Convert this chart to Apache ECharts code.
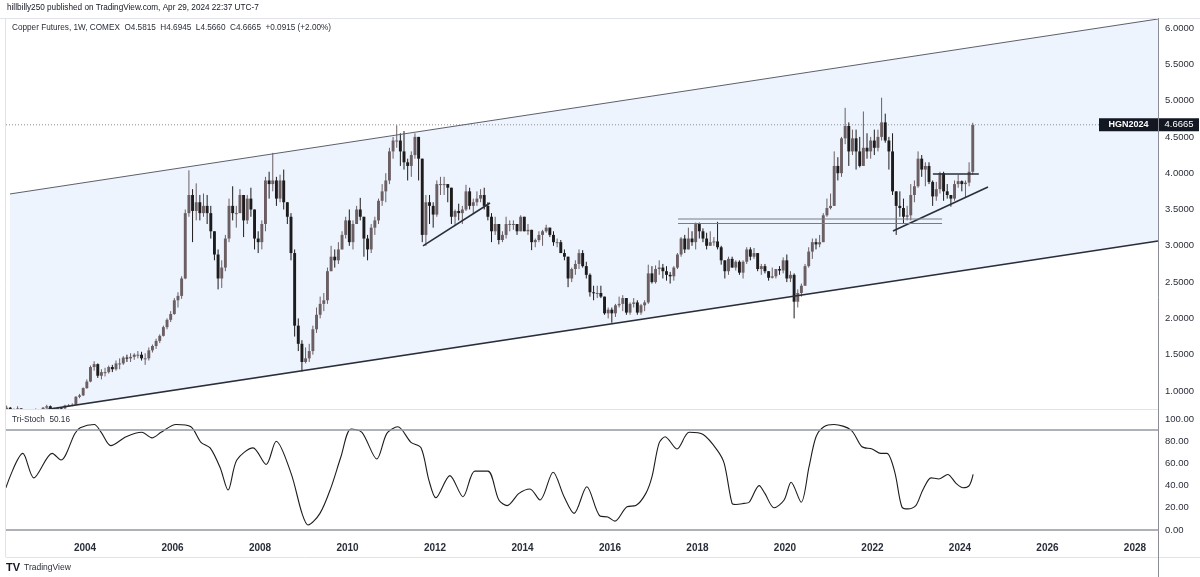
<!DOCTYPE html>
<html><head><meta charset="utf-8">
<script src="https://cdn.jsdelivr.net/npm/echarts@6/dist/echarts.min.js"></script>
<style>html,body{margin:0;padding:0;background:#fff;overflow:hidden}#c{width:1200px;height:577px}</style>
</head><body><div id="c"></div><script>
// ---------- DATA ----------
const startYear = 2002, startMonth = 2; // monthly candles Feb 2002 .. Apr 2024
const open = [
0.72,0.73,0.77,0.73,0.74,0.76,0.69,0.67,0.67,0.72,0.73,
0.70,0.77,0.79,0.75,0.74,0.77,0.76,0.80,0.80,0.81,0.92,0.94,
1.04,1.13,1.33,1.37,1.21,1.26,1.26,1.33,1.30,1.38,1.38,1.46,
1.45,1.47,1.50,1.50,1.45,1.45,1.56,1.62,1.69,1.76,1.88,1.98,
2.06,2.25,2.31,2.55,3.45,3.70,3.48,3.60,3.45,3.55,3.45,3.20,
2.88,2.55,2.70,3.10,3.55,3.45,3.45,3.70,3.35,3.65,3.50,3.10,
3.05,3.30,3.90,3.85,3.90,3.65,3.90,3.60,3.40,2.90,1.90,1.65,
1.40,1.45,1.55,1.85,2.05,2.20,2.25,2.65,2.85,2.80,2.95,3.15,
3.35,3.05,3.30,3.50,3.40,3.10,2.95,3.25,3.35,3.62,3.75,3.90,
4.30,4.45,4.45,4.30,4.15,4.10,4.25,4.50,4.20,3.15,3.60,3.55,
3.43,3.85,3.85,3.85,3.80,3.40,3.48,3.45,3.50,3.75,3.55,3.60,
3.65,3.70,3.55,3.40,3.20,3.30,3.08,3.15,3.30,3.30,3.30,3.20,
3.40,3.20,3.22,3.05,3.08,3.15,3.20,3.25,3.15,3.05,3.05,2.90,
2.85,2.55,2.68,2.75,2.90,2.72,2.60,2.36,2.35,2.35,2.30,2.07,
2.12,2.07,2.18,2.20,2.28,2.08,2.20,2.22,2.08,2.18,2.22,2.62,
2.50,2.68,2.70,2.65,2.60,2.58,2.70,2.88,3.10,2.95,3.10,3.05,
3.30,3.20,3.10,3.00,3.05,3.06,2.98,2.80,2.65,2.82,2.70,2.78,
2.63,2.78,2.95,2.85,2.90,2.68,2.72,2.65,2.56,2.58,2.68,2.66,
2.80,2.55,2.60,2.23,2.35,2.45,2.72,2.92,3.05,3.02,3.05,3.42,
3.52,3.55,4.10,4.00,4.48,4.65,4.30,4.48,4.30,4.10,4.35,4.30,
4.45,4.35,4.50,4.70,4.45,4.30,3.75,3.55,3.52,3.40,3.42,3.70,
3.82,4.20,4.05,4.10,3.88,3.68,3.78,4.00,3.75,3.70,3.65,3.85,
3.89,3.85,3.87,4.02];
const high = [
0.74,0.80,0.78,0.76,0.79,0.76,0.70,0.70,0.73,0.76,0.74,
0.78,0.81,0.80,0.77,0.78,0.78,0.81,0.82,0.83,0.93,0.96,1.05,
1.16,1.35,1.41,1.38,1.30,1.32,1.35,1.36,1.42,1.45,1.48,1.50,
1.52,1.52,1.55,1.54,1.52,1.60,1.64,1.72,1.78,1.90,2.00,2.10,
2.28,2.36,2.58,3.50,4.04,3.78,3.86,3.70,3.72,3.70,3.55,3.20,
2.95,2.80,3.15,3.65,3.82,3.55,3.78,3.70,3.70,3.80,3.50,3.20,
3.35,3.95,4.02,4.28,3.95,3.98,4.05,3.60,3.45,2.95,2.00,1.70,
1.60,1.65,1.90,2.15,2.30,2.35,2.70,3.00,2.95,3.05,3.20,3.40,
3.50,3.35,3.55,3.66,3.40,3.15,3.30,3.40,3.65,3.85,4.00,4.35,
4.50,4.66,4.55,4.58,4.20,4.30,4.55,4.50,4.20,3.70,3.70,3.60,
3.90,3.95,3.95,3.85,3.80,3.50,3.58,3.55,3.84,3.80,3.65,3.75,
3.78,3.80,3.60,3.45,3.40,3.30,3.20,3.40,3.35,3.35,3.30,3.42,
3.40,3.30,3.22,3.10,3.20,3.22,3.29,3.25,3.20,3.10,3.08,2.95,
2.85,2.70,2.80,2.95,2.94,2.78,2.62,2.45,2.45,2.45,2.30,2.15,
2.15,2.20,2.30,2.32,2.28,2.22,2.28,2.25,2.20,2.25,2.74,2.72,
2.73,2.80,2.75,2.72,2.64,2.72,2.90,3.12,3.15,3.25,3.20,3.32,
3.32,3.24,3.18,3.20,3.12,3.33,3.00,2.80,2.85,2.85,2.80,2.80,
2.80,2.98,2.98,2.97,2.90,2.75,2.75,2.65,2.70,2.68,2.72,2.84,
2.88,2.65,2.62,2.40,2.48,2.75,2.98,3.10,3.10,3.15,3.45,3.65,
3.72,4.30,4.22,4.50,4.90,4.70,4.60,4.60,4.50,4.85,4.55,4.50,
4.60,4.60,5.04,4.82,4.50,4.55,3.75,3.75,3.65,3.55,3.85,3.90,
4.30,4.25,4.15,4.15,3.90,3.88,4.02,4.02,3.85,3.70,3.90,3.98,
3.90,3.90,4.15,4.6945];
const low = [
0.70,0.72,0.72,0.71,0.73,0.68,0.65,0.66,0.66,0.71,0.69,
0.70,0.76,0.74,0.72,0.73,0.74,0.75,0.78,0.79,0.81,0.90,0.93,
1.03,1.12,1.28,1.18,1.16,1.20,1.24,1.26,1.28,1.30,1.36,1.40,
1.40,1.43,1.45,1.42,1.36,1.42,1.53,1.58,1.66,1.75,1.85,1.95,
2.05,2.15,2.27,2.54,3.40,3.05,3.35,3.35,3.40,3.30,3.10,2.80,
2.40,2.42,2.65,3.05,3.35,3.25,3.45,3.12,3.30,3.40,2.95,2.90,
2.95,3.20,3.65,3.75,3.55,3.60,3.50,3.30,2.80,1.75,1.55,1.27,
1.38,1.40,1.50,1.80,2.00,2.10,2.20,2.65,2.70,2.75,2.95,3.10,
3.00,2.95,3.30,3.35,2.85,2.80,2.90,3.15,3.30,3.55,3.60,3.85,
4.20,4.35,4.10,4.05,3.90,3.95,4.20,3.90,3.05,3.00,3.30,3.25,
3.40,3.70,3.70,3.60,3.30,3.28,3.35,3.30,3.48,3.50,3.45,3.55,
3.60,3.50,3.35,3.05,3.15,3.02,3.05,3.10,3.20,3.22,3.15,3.20,
3.20,3.15,2.94,2.98,3.05,3.00,3.18,3.12,3.00,2.98,2.90,2.80,
2.43,2.50,2.60,2.68,2.70,2.55,2.30,2.25,2.28,2.28,2.05,2.00,
1.94,2.02,2.15,2.10,2.05,2.05,2.15,2.05,2.05,2.10,2.20,2.48,
2.48,2.60,2.55,2.52,2.48,2.52,2.68,2.85,2.90,2.95,3.00,2.95,
3.10,3.05,2.95,3.00,3.00,2.95,2.74,2.55,2.60,2.70,2.66,2.60,
2.55,2.75,2.80,2.82,2.65,2.60,2.62,2.52,2.55,2.55,2.60,2.62,
2.50,2.50,2.00,2.15,2.30,2.45,2.70,2.82,2.95,2.98,3.05,3.40,
3.50,3.55,3.90,3.95,4.40,4.10,4.25,4.05,4.08,4.10,4.20,4.20,
4.25,4.30,4.45,4.42,4.05,3.70,3.15,3.40,3.30,3.35,3.35,3.60,
3.80,3.95,3.82,3.85,3.55,3.62,3.72,3.62,3.65,3.54,3.62,3.80,
3.75,3.67,3.82,3.98];
const close = [
0.73,0.77,0.73,0.74,0.76,0.69,0.67,0.67,0.72,0.73,0.70,
0.77,0.79,0.75,0.74,0.77,0.76,0.80,0.80,0.81,0.92,0.94,1.04,
1.13,1.33,1.37,1.21,1.26,1.26,1.33,1.30,1.38,1.38,1.46,1.45,
1.47,1.50,1.50,1.45,1.45,1.56,1.62,1.69,1.76,1.88,1.98,2.06,
2.25,2.31,2.55,3.45,3.70,3.48,3.60,3.45,3.55,3.45,3.20,2.88,
2.55,2.70,3.10,3.55,3.45,3.45,3.70,3.35,3.65,3.50,3.10,3.05,
3.30,3.90,3.85,3.90,3.65,3.90,3.60,3.40,2.90,1.90,1.65,1.40,
1.45,1.55,1.85,2.05,2.20,2.25,2.65,2.85,2.80,2.95,3.15,3.35,
3.05,3.30,3.50,3.40,3.10,2.95,3.25,3.35,3.62,3.75,3.90,4.30,
4.45,4.45,4.30,4.15,4.10,4.25,4.50,4.20,3.15,3.60,3.55,3.43,
3.85,3.85,3.85,3.80,3.40,3.48,3.45,3.50,3.75,3.55,3.60,3.65,
3.70,3.55,3.40,3.20,3.30,3.08,3.15,3.30,3.30,3.30,3.20,3.40,
3.20,3.22,3.05,3.08,3.15,3.20,3.25,3.15,3.05,3.05,2.90,2.85,
2.55,2.68,2.75,2.90,2.72,2.60,2.36,2.35,2.35,2.30,2.07,2.12,
2.07,2.18,2.20,2.28,2.08,2.20,2.22,2.08,2.18,2.22,2.62,2.50,
2.68,2.70,2.65,2.60,2.58,2.70,2.88,3.10,2.95,3.10,3.05,3.30,
3.20,3.10,3.00,3.05,3.06,2.98,2.80,2.65,2.82,2.70,2.78,2.63,
2.78,2.95,2.85,2.90,2.68,2.72,2.65,2.56,2.58,2.68,2.66,2.80,
2.55,2.60,2.23,2.35,2.45,2.72,2.92,3.05,3.02,3.05,3.42,3.52,
3.55,4.10,4.00,4.48,4.65,4.30,4.48,4.30,4.10,4.35,4.30,4.45,
4.35,4.50,4.70,4.45,4.30,3.75,3.55,3.52,3.40,3.42,3.70,3.82,
4.20,4.05,4.10,3.88,3.68,3.78,4.00,3.75,3.70,3.65,3.85,3.89,
3.85,3.87,4.02,4.6665];
const lastPrice = 4.6665;

const stochYears = [2002.19,2002.58,2002.83,2003.25,2003.45,2003.77,2003.89,2004.21,2004.37,2004.59,2004.94,2005.30,2005.53,2005.74,2006.08,2006.42,2006.65,2006.86,2007.09,2007.27,2007.47,2007.84,2008.14,2008.37,2008.71,2008.96,2009.10,2009.37,2009.62,2009.85,2010.08,2010.33,2010.67,2010.90,2011.15,2011.45,2011.68,2011.86,2012.02,2012.34,2012.64,2012.91,2013.21,2013.46,2013.65,2013.92,2014.17,2014.40,2014.70,2014.95,2015.18,2015.47,2015.77,2015.95,2016.11,2016.39,2016.59,2016.82,2016.96,2017.12,2017.26,2017.53,2017.81,2018.13,2018.45,2018.61,2018.79,2018.88,2019.06,2019.18,2019.41,2019.54,2019.75,2019.98,2020.14,2020.37,2020.55,2020.71,2020.89,2021.12,2021.51,2021.76,2021.99,2022.19,2022.33,2022.51,2022.67,2022.81,2022.99,2023.15,2023.34,2023.52,2023.72,2023.91,2024.07,2024.21,2024.30];
const stochValues = [38,69,47,69,63,87,92,95,88,76,84,88,83,88,95,93,79,74,56,36,63,74,59,80,51,15,4.5,15,38,66,91,88,64,87,93,79,74,45,29,49,30,53,53,27,22,33,37,27,52,30,15,39,12.6,11.7,8,21,22,33,48,78,84,73,88,86,72,60,24,23,24,25,40,33,20,27,43,25,57,84,93,95,90,75,73,69,69,52,21,19,22,36,47,46,50,42,38,40,50.16];
const stochLevel = 90;

const channelYears = [2002.286, 2028.526];
const channelUpper = [3.714, 6.124];
const channelLower = [0.669, 3.066];
const trend2011Years = [2011.725, 2013.257], trend2011Values = [3.00, 3.59];
const trend2022Years = [2022.468, 2024.64],  trend2022Values = [3.204, 3.81];
const level2023Years = [2023.38, 2024.43],   level2023Values = [3.989, 3.989];
const levelAYears = [2017.555, 2023.59], levelAValues = [3.369, 3.369];
const levelBYears = [2017.555, 2023.59], levelBValues = [3.307, 3.307];

const priceTicks = [1,1.5,2,2.5,3,3.5,4,4.5,5,5.5,6];
const stochTicks = [0,20,40,60,80,100];
const yearTicks = [2004,2006,2008,2010,2012,2014,2016,2018,2020,2022,2024,2026,2028];
const xMin = 2002.194, xMax = 2028.526;

// ---------- CHART ----------
const FONT = 'Liberation Sans';
const chart = echarts.init(document.getElementById('c'), null, {renderer:'canvas'});
const candles = open.map((o,i)=>{
  const m = startMonth - 1 + i;
  return [startYear + (m + 0.5)/12, o, close[i], low[i], high[i]];
});
const pair = (xs, ys) => xs.map((x,i)=>[x, ys[i]]);
function lineSeries(name, xs, ys, color, width){
  return {name, type:'line', xAxisIndex:0, yAxisIndex:0, data: pair(xs, ys), symbol:'none',
    silent:true, animation:false, z:4, lineStyle:{color, width}};
}
const option = {
  animation:false,
  backgroundColor:'#ffffff',
  grid:[
    {left:6, right:42, top:18, height:391},
    {left:6, right:42, top:410, height:127}
  ],
  xAxis:[
    {type:'value', gridIndex:0, min:xMin, max:xMax, axisLine:{show:false}, axisTick:{show:false},
     axisLabel:{show:false}, splitLine:{show:false}},
    {type:'value', gridIndex:1, min:xMin, max:xMax, axisLine:{show:true, lineStyle:{color:'#9598a1', width:1.5}},
     axisTick:{show:false}, splitLine:{show:false},
     axisLabel:{customValues:yearTicks, color:'#2a2e39', fontSize:10, fontWeight:'bold', fontFamily:FONT, margin:6,
       formatter:v=>String(Math.round(v))}}
  ],
  yAxis:[
    {type:'value', gridIndex:0, position:'right', min:0.7521, max:6.1377, axisLine:{show:false}, axisTick:{show:false},
     splitLine:{show:false},
     axisLabel:{customValues:priceTicks, formatter:v=>v.toFixed(4), color:'#2a2e39', fontSize:9.5, fontFamily:FONT, margin:7}},
    {type:'value', gridIndex:1, position:'right', min:-6.3, max:108.1, axisLine:{show:false}, axisTick:{show:false},
     splitLine:{show:false},
     axisLabel:{customValues:stochTicks, formatter:v=>v.toFixed(2), color:'#2a2e39', fontSize:9.5, fontFamily:FONT, margin:7}}
  ],
  series:[
    {name:'channel', type:'custom', xAxisIndex:0, yAxisIndex:0, data:[[channelYears[0], channelUpper[0]]], silent:true, z:1, clip:true,
     renderItem:(params, api)=>{
       const cs = params.coordSys;
       const p1 = api.coord([channelYears[0], channelUpper[0]]);
       const p2 = api.coord([channelYears[1], channelUpper[1]]);
       const p3 = api.coord([channelYears[1], channelLower[1]]);
       const p4 = api.coord([channelYears[0], channelLower[0]]);
       return {type:'polygon', shape:{points:[p1,p2,p3,p4]}, style:{fill:'#edf4fd'},
         clipPath:{type:'rect', shape:{x:cs.x, y:cs.y, width:cs.width, height:cs.height}}};
     }},
    lineSeries('upper', channelYears, channelUpper, '#5d606b', 1),
    lineSeries('lower', channelYears, channelLower, '#2a2e39', 1.6),
    {name:'candles', type:'custom', xAxisIndex:0, yAxisIndex:0, data:candles, silent:true, z:3, clip:true,
     encode:{x:0, y:[1,2,3,4]},
     renderItem:(params, api)=>{
       const cs = params.coordSys;
       const t = api.value(0), o = api.value(1), c = api.value(2), l = api.value(3), h = api.value(4);
       const pO = api.coord([t,o]), pC = api.coord([t,c]), pL = api.coord([t,l]), pH = api.coord([t,h]);
       const w = Math.max(1.5, api.size([1/12, 0])[0]*0.8);
       const up = c >= o;
       const col = up ? '#6b5f63' : '#1d1b1c';
       const x = pO[0];
       return {type:'group',
         clipPath:{type:'rect', shape:{x:cs.x, y:cs.y, width:cs.width, height:cs.height}},
         children:[
           {type:'line', shape:{x1:x, y1:pH[1], x2:x, y2:pL[1]}, style:{stroke:col, lineWidth:1}},
           {type:'rect', shape:{x:x-w/2, y:Math.min(pO[1],pC[1]), width:w, height:Math.max(1, Math.abs(pO[1]-pC[1]))}, style:{fill:col}}
         ]};
     }},
    lineSeries('trend2011', trend2011Years, trend2011Values, '#2a2e39', 1.6),
    lineSeries('trend2022', trend2022Years, trend2022Values, '#2a2e39', 1.6),
    lineSeries('level2023', level2023Years, level2023Values, '#2a2e39', 1.6),
    lineSeries('levelA', levelAYears, levelAValues, '#787b86', 1),
    lineSeries('levelB', levelBYears, levelBValues, '#787b86', 1),
    {name:'last', type:'line', xAxisIndex:0, yAxisIndex:0, data:[[xMin,lastPrice],[xMax,lastPrice]], symbol:'none', silent:true, z:2,
     lineStyle:{color:'#8a8d96', width:1, type:[1,2]}},
    {name:'Tri-Stoch', type:'line', xAxisIndex:1, yAxisIndex:1, data:pair(stochYears, stochValues), symbol:'none', smooth:0.3,
     silent:true, z:3, lineStyle:{color:'#1c1c1c', width:1.1},
     markLine:{silent:true, symbol:'none', label:{show:false}, lineStyle:{color:'#9598a1', width:1.5, type:'solid'},
       data:[{yAxis:stochLevel}]}}
  ]
};
chart.setOption(option);

const yLast = chart.convertToPixel({yAxisIndex:0}, lastPrice);
const txt = (x, y, text, size, color, weight, align) => ({type:'text', x, y, silent:true, z:50,
  style:{text, fontSize:size, fontFamily:FONT, fill:color, fontWeight:weight||'normal', textAlign:align||'left', textVerticalAlign:'middle'}});
const ln = (x1,y1,x2,y2,color,w) => ({type:'line', silent:true, z:40, shape:{x1,y1,x2,y2}, style:{stroke:color, lineWidth:w||1}});
chart.setOption({graphic:[
  ln(0,18.5,1200,18.5,'#e0e3eb'),
  ln(5.5,18,5.5,557,'#e0e3eb'),
  ln(6,409.5,1158,409.5,'#e0e3eb'),
  ln(6,557.5,1200,557.5,'#e0e3eb'),
  ln(1158.5,18,1158.5,577,'#8a8d96'),
  txt(7, 8, 'hillbilly250 published on TradingView.com, Apr 29, 2024 22:37 UTC-7', 8.2, '#131722'),
  txt(12, 28, 'Copper Futures, 1W, COMEX  O4.5815  H4.6945  L4.5660  C4.6665  +0.0915 (+2.00%)', 8.2, '#2a2e39'),
  txt(12, 420, 'Tri-Stoch  50.16', 8.2, '#2a2e39'),
  {type:'rect', silent:true, z:45, shape:{x:1099, y:yLast-6.5, width:59, height:13}, style:{fill:'#131722'}},
  txt(1128.5, yLast, 'HGN2024', 9, '#ffffff', 'bold', 'center'),
  {type:'rect', silent:true, z:45, shape:{x:1159, y:yLast-6.5, width:40, height:13}, style:{fill:'#131722'}},
  txt(1179, yLast, lastPrice.toFixed(4), 9.5, '#ffffff', 'normal', 'center'),
  txt(6, 568, 'TV', 11, '#131722', '900'),
  txt(24, 568, 'TradingView', 8.5, '#2a2e39')
]});
</script></body></html>
